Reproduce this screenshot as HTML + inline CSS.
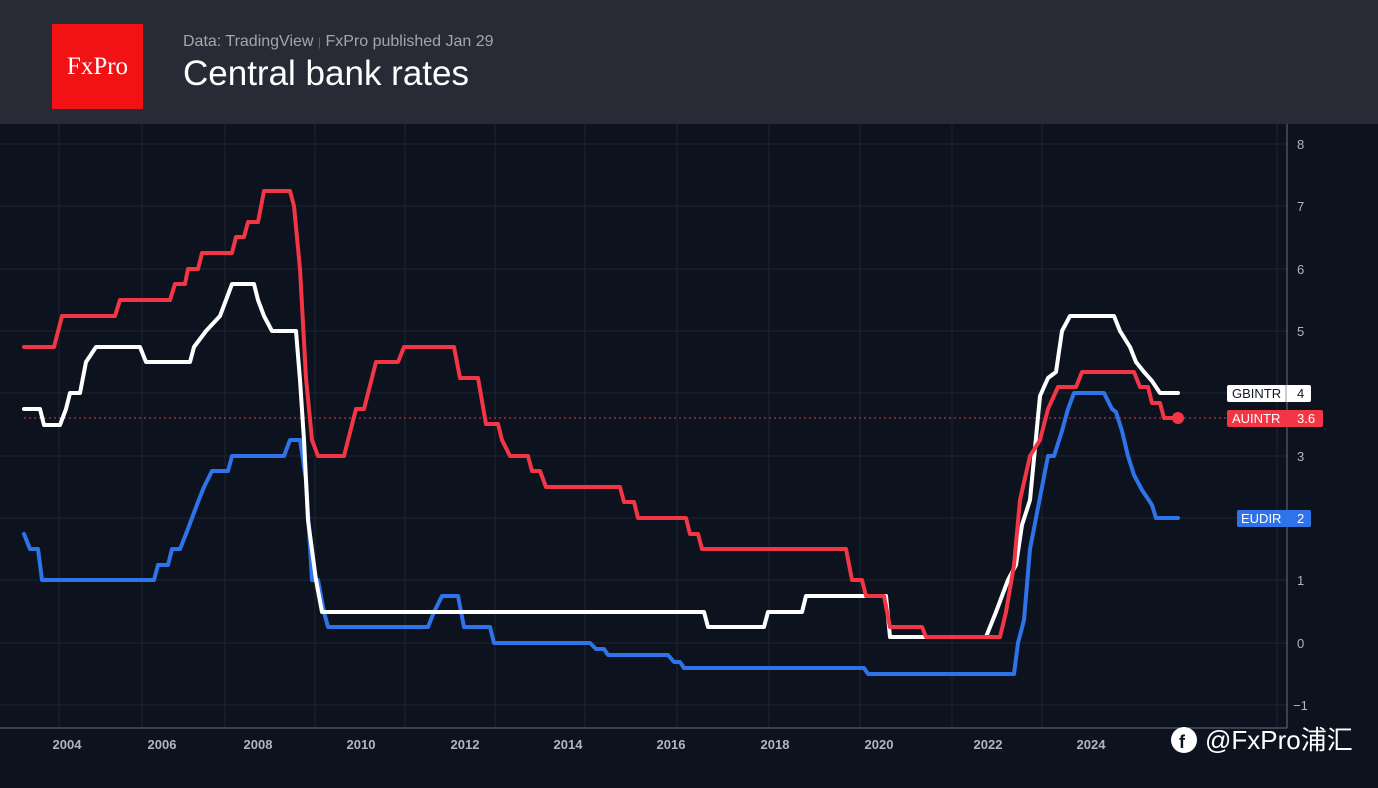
<!DOCTYPE html>
<html><head><meta charset="utf-8"><style>
body{margin:0;width:1378px;height:788px;overflow:hidden;background:#0c131f;font-family:"Liberation Sans",sans-serif}
.hdr{position:absolute;left:0;top:0;width:1378px;height:124px;background:#282a36}
.logo{position:absolute;left:52px;top:24px;width:91px;height:85px;background:#f21114;color:#fff;font-family:"Liberation Serif",serif;font-size:25px;line-height:85px;text-align:center}
.sub{position:absolute;left:183px;top:33px;color:#a4a6ad;font-size:16px}
.ttl{position:absolute;left:183px;top:54px;color:#fff;font-size:35px}
</style></head><body>
<div class="hdr"><div class="logo">FxPro</div>
<div class="sub">Data: TradingView <span style="color:#666;font-size:12px">|</span> FxPro published Jan 29</div>
<div class="ttl">Central bank rates</div></div>
<svg width="1378" height="788" style="position:absolute;left:0;top:0">
<g stroke="#1d2531" stroke-width="1">
<line x1="0" x2="1287" y1="144" y2="144"/><line x1="0" x2="1287" y1="206" y2="206"/><line x1="0" x2="1287" y1="269" y2="269"/><line x1="0" x2="1287" y1="331" y2="331"/><line x1="0" x2="1287" y1="393" y2="393"/><line x1="0" x2="1287" y1="456" y2="456"/><line x1="0" x2="1287" y1="518" y2="518"/><line x1="0" x2="1287" y1="580" y2="580"/><line x1="0" x2="1287" y1="643" y2="643"/><line x1="0" x2="1287" y1="705" y2="705"/>
<line x1="59" x2="59" y1="124" y2="728"/><line x1="142" x2="142" y1="124" y2="728"/><line x1="225" x2="225" y1="124" y2="728"/><line x1="315" x2="315" y1="124" y2="728"/><line x1="405" x2="405" y1="124" y2="728"/><line x1="495" x2="495" y1="124" y2="728"/><line x1="585" x2="585" y1="124" y2="728"/><line x1="677" x2="677" y1="124" y2="728"/><line x1="769" x2="769" y1="124" y2="728"/><line x1="860" x2="860" y1="124" y2="728"/><line x1="952" x2="952" y1="124" y2="728"/><line x1="1042" x2="1042" y1="124" y2="728"/><line x1="1277" x2="1277" y1="124" y2="728"/>
</g>
<line x1="1287" x2="1287" y1="124" y2="728" stroke="#6a6f7a"/>
<line x1="0" x2="1287" y1="728" y2="728" stroke="#6a6f7a"/>
<g fill="#b2b5be" font-size="13" font-weight="bold">
<text x="67" y="749" text-anchor="middle">2004</text><text x="162" y="749" text-anchor="middle">2006</text><text x="258" y="749" text-anchor="middle">2008</text><text x="361" y="749" text-anchor="middle">2010</text><text x="465" y="749" text-anchor="middle">2012</text><text x="568" y="749" text-anchor="middle">2014</text><text x="671" y="749" text-anchor="middle">2016</text><text x="775" y="749" text-anchor="middle">2018</text><text x="879" y="749" text-anchor="middle">2020</text><text x="988" y="749" text-anchor="middle">2022</text><text x="1091" y="749" text-anchor="middle">2024</text>
</g>
<g fill="#b2b5be" font-size="13">
<text x="1297" y="149">8</text><text x="1297" y="211">7</text><text x="1297" y="274">6</text><text x="1297" y="336">5</text><text x="1297" y="461">3</text><text x="1297" y="585">1</text><text x="1297" y="648">0</text><text x="1293" y="710">−1</text>
</g>
<line x1="24" x2="1227" y1="418" y2="418" stroke="#f23645" stroke-dasharray="2,3" stroke-width="1"/>
<g fill="none" stroke-width="4" stroke-linejoin="round" stroke-linecap="round">
<polyline stroke="#2f73ea" points="24,534 30,549 38,549 42,580 154,580 158,565 168,565 172,549 180,549 186,534 192,518 198,502 204,487 212,471 228,471 232,456 284,456 290,440 300,440 306,480 312,580 318,580 324,612 328,627 428,627 434,612 442,596 458,596 464,627 490,627 494,643 590,643 596,649 604,649 608,655 668,655 674,662 680,662 684,668 864,668 868,674 1014,674 1018,643 1024,620 1030,549 1036,518 1042,487 1048,456 1054,456 1062,431 1068,409 1074,393 1104,393 1112,409 1116,412 1122,431 1128,456 1134,475 1142,490 1152,505 1156,518 1178,518"/>
<polyline stroke="#ffffff" points="24,409 40,409 44,425 60,425 66,409 70,393 80,393 86,362 96,347 140,347 146,362 190,362 194,347 206,331 220,316 226,300 232,284 254,284 258,300 264,316 272,331 296,331 300,380 304,440 308,520 316,580 322,612 704,612 708,627 764,627 768,612 802,612 806,596 886,596 890,637 986,637 996,612 1002,596 1008,580 1016,565 1022,525 1030,500 1040,396 1048,378 1056,372 1062,331 1070,316 1114,316 1120,331 1130,347 1136,362 1144,372 1152,381 1160,393 1178,393"/>
<polyline stroke="#f23645" points="24,347 54,347 62,316 115,316 120,300 170,300 175,284 185,284 188,269 198,269 202,253 232,253 236,237 244,237 248,222 258,222 264,191 290,191 294,206 300,269 306,378 312,440 318,456 344,456 356,409 364,409 376,362 398,362 404,347 454,347 460,378 478,378 486,424 498,424 502,440 510,456 528,456 532,471 540,471 546,487 620,487 624,502 634,502 638,518 686,518 690,534 698,534 702,549 846,549 852,580 862,580 866,596 884,596 890,627 922,627 926,637 1000,637 1006,612 1014,565 1020,500 1030,456 1040,440 1048,409 1058,387 1076,387 1082,372 1134,372 1140,387 1148,387 1152,403 1160,403 1164,418 1178,418"/>
</g>
<circle cx="1178" cy="418" r="6" fill="#f23645"/>
<rect x="1227" y="385" width="84" height="17" rx="2" fill="#fff"/>
<text x="1232" y="398" font-size="13" fill="#131722">GBINTR</text><line x1="1286" x2="1286" y1="385" y2="402" stroke="#999"/><text x="1297" y="398" font-size="13" fill="#131722">4</text>
<rect x="1227" y="410" width="96" height="17" rx="2" fill="#f23645"/>
<text x="1232" y="423" font-size="13" fill="#fff">AUINTR</text><text x="1297" y="423" font-size="13" fill="#fff">3.6</text>
<rect x="1237" y="510" width="74" height="17" rx="2" fill="#2f73ea"/>
<text x="1241" y="523" font-size="13" fill="#fff">EUDIR</text><text x="1297" y="523" font-size="13" fill="#fff">2</text>
<circle cx="1184" cy="740" r="13" fill="#fff"/>
<text x="1179" y="748" font-size="18" font-weight="bold" fill="#0c131f">f</text>
<text x="1205" y="749" font-size="26" fill="#fff" font-family="Liberation Sans,Noto Sans CJK SC,sans-serif">@FxPro浦汇</text>
</svg>
</body></html>
